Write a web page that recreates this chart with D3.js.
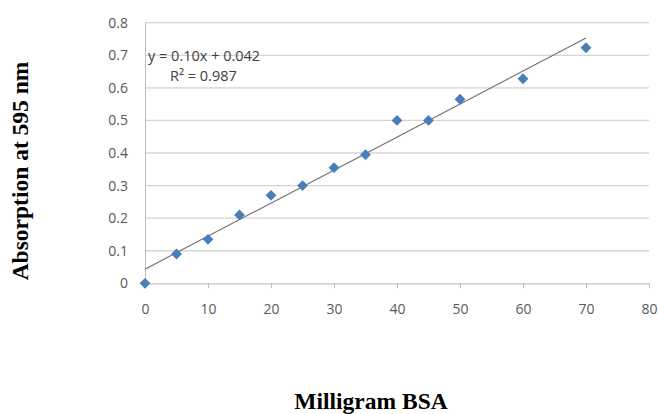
<!DOCTYPE html>
<html><head><meta charset="utf-8">
<script src="https://cdn.jsdelivr.net/npm/d3@7"></script>
<style>html,body{margin:0;padding:0;background:#fff;}svg{display:block;}</style>
</head><body>
<svg id="c" width="658" height="414"></svg>
<script>
const mgBSA = [0, 5, 10, 15, 20, 25, 30, 35, 40, 45, 50, 60, 70];
const absorption = [0, 0.09, 0.135, 0.21, 0.27, 0.30, 0.355, 0.395, 0.50, 0.50, 0.565, 0.628, 0.723];
const xTicks = [0, 10, 20, 30, 40, 50, 60, 70, 80];
const yTicks = [0, 0.1, 0.2, 0.3, 0.4, 0.5, 0.6, 0.7, 0.8];
const equationLines = ["y = 0.10x + 0.042", "R² = 0.987"];
const trendRange = [0, 70];

const svg = d3.select("#c");
const x = d3.scaleLinear().domain([0, 80]).range([145, 649]);
const y = d3.scaleLinear().domain([0, 0.8]).range([283.3, 22.7]);
const tickFont = "'Open Sans', 'Liberation Sans', sans-serif";

// gridlines
svg.append("g").selectAll("line").data(yTicks.filter(d => d > 0)).join("line")
  .attr("x1", x(0)).attr("x2", x(80))
  .attr("y1", d => y(d)).attr("y2", d => y(d))
  .attr("stroke", "#d4d4d4").attr("stroke-width", 1.3);

// y axis
const ya = svg.append("g").attr("transform", `translate(${x(0)},0)`)
  .call(d3.axisLeft(y).tickValues(yTicks).tickSize(0).tickPadding(17)
    .tickFormat(d => d === 0 ? "0" : d3.format(".1f")(d)));
ya.select(".domain").attr("stroke", "#bfbfbf").attr("stroke-width", 1);
ya.selectAll("text").attr("font-family", tickFont).attr("font-size", 14).attr("fill", "#595959");

// x axis
const xa = svg.append("g").attr("transform", `translate(0,${y(0)})`)
  .call(d3.axisBottom(x).tickValues(xTicks).tickSize(5).tickSizeOuter(0).tickPadding(16));
xa.select(".domain").attr("stroke", "#bfbfbf").attr("stroke-width", 1.2);
xa.selectAll(".tick line").attr("stroke", "#bfbfbf");
xa.selectAll("text").attr("font-family", tickFont).attr("font-size", 14).attr("fill", "#595959");

// least-squares trendline
const n = mgBSA.length;
const mx = d3.mean(mgBSA), my = d3.mean(absorption);
let sxy = 0, sxx = 0;
for (let i = 0; i < n; i++) { sxy += (mgBSA[i]-mx)*(absorption[i]-my); sxx += (mgBSA[i]-mx)**2; }
const slope = sxy / sxx, icpt = my - slope * mx;
svg.append("line")
  .attr("x1", x(trendRange[0])).attr("y1", y(icpt + slope*trendRange[0]))
  .attr("x2", x(trendRange[1])).attr("y2", y(icpt + slope*trendRange[1]))
  .attr("stroke", "#6f6f6f").attr("stroke-width", 1.1);

// markers
const sym = d3.symbol().type(d3.symbolDiamond2).size(75);
svg.append("g").selectAll("path").data(mgBSA.map((d, i) => [d, absorption[i]])).join("path")
  .attr("d", sym)
  .attr("transform", d => `translate(${x(d[0])},${y(d[1])})`)
  .attr("fill", "#4a7ebb");

// equation
svg.append("text").attr("x", 148).attr("y", 61).text(equationLines[0])
  .attr("font-family", tickFont).attr("font-size", 14.5).attr("fill", "#404040");
svg.append("text").attr("x", 170).attr("y", 81).text(equationLines[1])
  .attr("font-family", tickFont).attr("font-size", 14.5).attr("fill", "#404040");

// axis titles
svg.append("text").attr("transform", "translate(28,171) rotate(-90)")
  .attr("text-anchor", "middle").text("Absorption at 595 nm")
  .attr("font-family", "'Liberation Serif', 'Times New Roman', serif")
  .attr("font-weight", "bold").attr("font-size", 23.5).attr("fill", "#000");
svg.append("text").attr("x", 371).attr("y", 409)
  .attr("text-anchor", "middle").text("Milligram BSA")
  .attr("font-family", "'Liberation Serif', 'Times New Roman', serif")
  .attr("font-weight", "bold").attr("font-size", 23.5).attr("fill", "#000");
</script>
</body></html>
